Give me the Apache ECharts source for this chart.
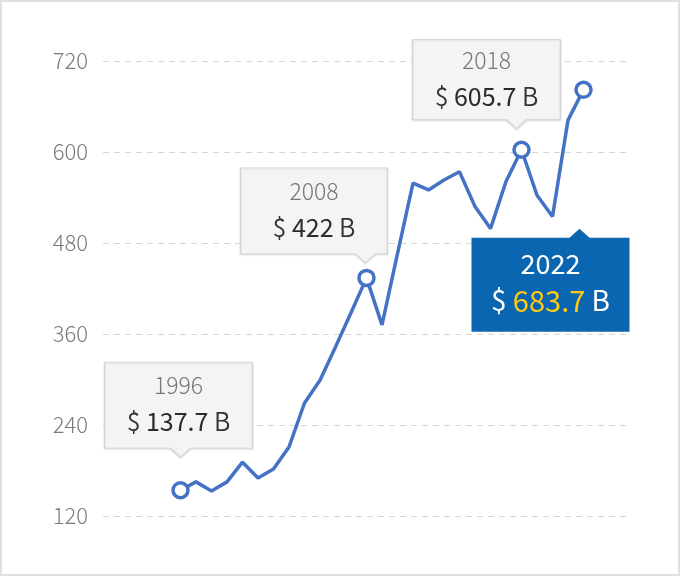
<!DOCTYPE html>
<html>
<head>
<meta charset="utf-8">
<script src="https://cdn.jsdelivr.net/npm/echarts@6/dist/echarts.min.js"></script>
<style>
  html, body { margin: 0; padding: 0; background: #fff; }
  #main { position: absolute; left: 0; top: 0; width: 680px; height: 576px; }
  #frame { position: absolute; left: 0; top: 0; width: 680px; height: 576px; box-sizing: border-box;
           border: 2px solid #e0e0e0; pointer-events: none; }
</style>
</head>
<body>
<div id="main"></div>
<div id="frame"></div>
<script>
// 数据
var years = [1996, 1997, 1998, 1999, 2000, 2001, 2002, 2003, 2004, 2005, 2006, 2007, 2008,
             2009, 2010, 2011, 2012, 2013, 2014, 2015, 2016, 2017, 2018, 2019, 2020, 2021, 2022];
var values = [154, 165, 153, 165, 191, 170, 182, 211, 269, 299, 343, 388, 434,
              372, 466, 559, 550, 563, 574, 528, 499, 561, 603, 543, 515, 642, 682];
var yTicks = [120, 240, 360, 480, 600, 720];
var calloutYears = [1996, 2008, 2018, 2022];
var calloutValues = ['137.7', '422', '605.7', '683.7'];

// 标注框的样子 (w, h, 尖角位置, 方向, 偏移)
var boxes = [
    { w: 148, h: 86, px: 76, dir: 'down', off: [-2, -80.5] },
    { w: 147, h: 86, px: 125, dir: 'down', off: [-52.5, -62.5] },
    { w: 148, h: 80, px: 104, dir: 'down', off: [-35, -65.5] },
    { w: 158, h: 94, px: 108, dir: 'up', off: [-33, 190.5] }
];

var FONT = "'Noto Sans CJK SC', 'Source Sans Pro', sans-serif";
var BLUE = '#4472c4';

function boxPath(b) {
    var t = 9, hw = 10;
    if (b.dir === 'down') {
        return 'path://M0 0 H' + b.w + ' V' + b.h + ' H' + (b.px + hw) + ' L' + b.px + ' ' + (b.h + t) +
            ' L' + (b.px - hw) + ' ' + b.h + ' H0 Z';
    }
    return 'path://M0 ' + t + ' H' + (b.px - hw) + ' L' + b.px + ' 0 L' + (b.px + hw) + ' ' + t +
        ' H' + b.w + ' V' + (b.h + t) + ' H0 Z';
}

var lineData = years.map(function (y, i) { return [y, values[i]]; });

var markData = calloutYears.map(function (yr, i) {
    var b = boxes[i];
    var dark = i === calloutYears.length - 1;   // 最后一个是蓝色的
    return {
        coord: [yr, values[years.indexOf(yr)]],
        symbol: boxPath(b),
        symbolSize: [b.w, b.h + 9],
        symbolOffset: b.off,
        itemStyle: dark ? { color: '#0b66b2', borderWidth: 0 } : {
            color: '#f4f4f4', borderColor: '#d4d4d4', borderWidth: 1,
            shadowColor: 'rgba(0,0,0,0.12)', shadowBlur: 2, shadowOffsetY: 1
        },
        label: {
            show: true,
            position: 'inside',
            offset: [0, b.dir === 'down' ? -6 : 2],
            formatter: dark
                ? '{yw|' + yr + '}\n{dw|$ }{vy|' + calloutValues[i] + '}{dw| B}'
                : '{y|' + yr + '}\n{d|$ }{v|' + calloutValues[i] + '}{d| B}'
        }
    };
});

var chart = echarts.init(document.getElementById('main'));
var option = {
    animation: false,
    grid: { left: 103, right: 50, top: 61, bottom: 60 },
    xAxis: {
        type: 'value', min: 1991, max: 2025,
        axisLine: { show: false }, axisTick: { show: false },
        axisLabel: { show: false }, splitLine: { show: false }
    },
    yAxis: {
        type: 'value', min: yTicks[0], max: yTicks[yTicks.length - 1], interval: 120,
        axisLine: { show: false }, axisTick: { show: false },
        axisLabel: { color: '#7a7a7a', fontSize: 22, fontFamily: FONT, fontWeight: 300, margin: 15 },
        splitLine: { lineStyle: { color: '#d6d6d6', type: [6, 5], width: 1 } }
    },
    series: [{
        type: 'line',
        data: lineData,
        symbol: function (v) { return calloutYears.indexOf(v[0]) >= 0 ? 'circle' : 'none'; },
        symbolSize: 15,
        showAllSymbol: true,
        lineStyle: { color: BLUE, width: 3.5 },
        itemStyle: { color: '#fff', borderColor: BLUE, borderWidth: 3.5 },
        markPoint: {
            silent: true,
            data: markData,
            label: {
                fontFamily: FONT,
                rich: {
                    y: { color: '#777', fontSize: 23, fontWeight: 300, lineHeight: 36, fontFamily: FONT },
                    d: { color: '#333', fontSize: 25, fontWeight: 350, lineHeight: 36, fontFamily: FONT },
                    v: { color: '#2b2b2b', fontSize: 25, fontWeight: 400, lineHeight: 36, fontFamily: FONT },
                    yw: { color: '#fff', fontSize: 27, lineHeight: 37, fontFamily: FONT },
                    dw: { color: '#fff', fontSize: 28, lineHeight: 37, fontFamily: FONT },
                    vy: { color: '#ffc812', fontSize: 29, lineHeight: 37, fontFamily: FONT }
                }
            }
        }
    }]
};
chart.setOption(option);
</script>
</body>
</html>
